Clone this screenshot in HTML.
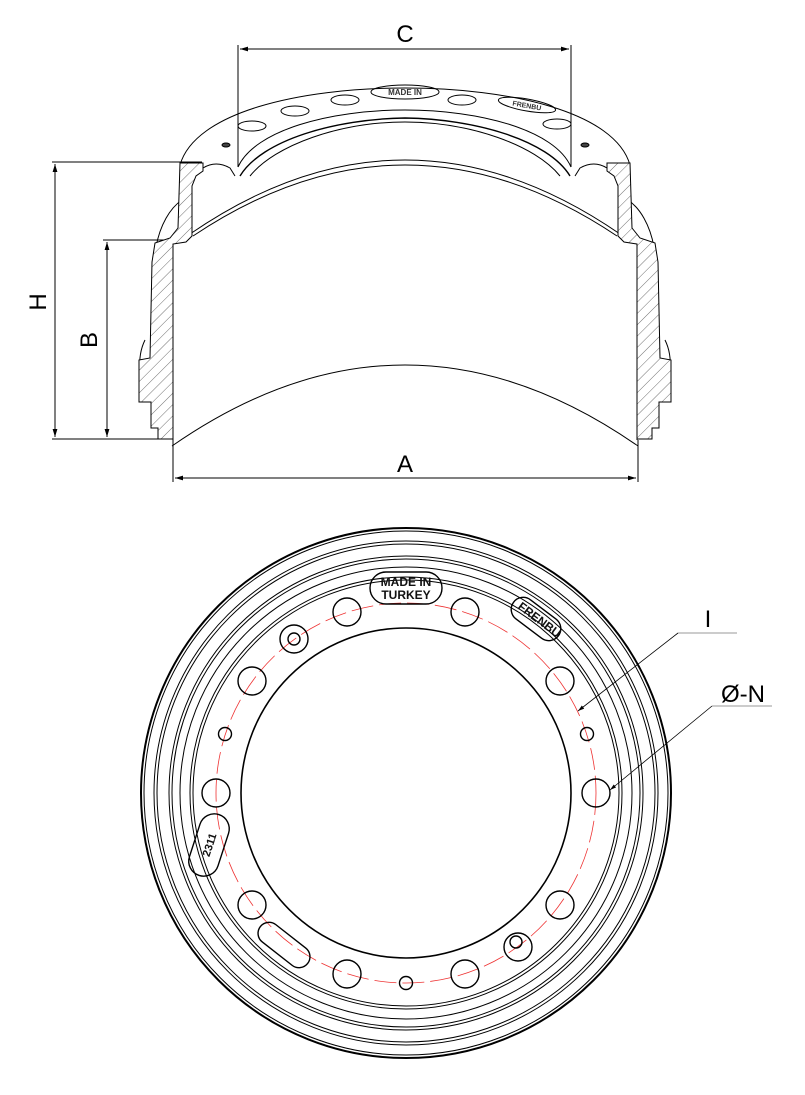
<!DOCTYPE html>
<html><head><meta charset="utf-8"><style>
html,body{margin:0;padding:0;background:#fff;}
svg{display:block;}
text{font-family:"Liberation Sans",sans-serif;}
</style></head><body>
<svg width="805" height="1095" viewBox="0 0 805 1095" xmlns="http://www.w3.org/2000/svg">
<defs>
<pattern id="h" patternUnits="userSpaceOnUse" width="8" height="8" patternTransform="rotate(45)">
<rect width="8" height="8" fill="#fff"/><line x1="0" y1="0" x2="0" y2="8" stroke="#333" stroke-width="0.7"/>
</pattern>
<marker id="ar" viewBox="0 0 10 10" refX="10" refY="5" markerWidth="8" markerHeight="8" orient="auto-start-reverse"><path d="M0,2 L10,5 L0,8 z" fill="#000"/></marker>
</defs>
<g fill="none" stroke="#000" stroke-width="1">
<line x1="238" y1="45" x2="238" y2="167"/><line x1="571" y1="45" x2="571" y2="167"/>
<line x1="240" y1="49" x2="569" y2="49" marker-start="url(#ar)" marker-end="url(#ar)"/>
<line x1="52" y1="162" x2="202" y2="162"/><line x1="52" y1="439" x2="160" y2="439"/>
<line x1="55" y1="164" x2="55" y2="437" marker-start="url(#ar)" marker-end="url(#ar)"/>
<line x1="103" y1="240" x2="175" y2="240"/>
<line x1="107" y1="242" x2="107" y2="437" marker-start="url(#ar)" marker-end="url(#ar)"/>
<line x1="173" y1="440" x2="173" y2="482"/><line x1="638" y1="440" x2="638" y2="482"/>
<line x1="175" y1="478" x2="636" y2="478" marker-start="url(#ar)" marker-end="url(#ar)"/>

<path d="M180,165 C195,112 300,88 405,88 C510,88 615,112 630,165"/>
<path d="M238,167 C255,130 330,110 405,110 C480,110 555,130 571,167"/>
<path d="M240,176 C262,140 335,119 405,118 C475,119 548,140 570,176" stroke-width="1.4"/>
<path d="M250,176 C275,145 340,122 405,122 C470,122 535,145 560,176"/>
<ellipse cx="252" cy="126" rx="14" ry="5"/><ellipse cx="295" cy="111" rx="14" ry="5"/>
<ellipse cx="345" cy="100" rx="14" ry="5"/><ellipse cx="462" cy="100" rx="14" ry="5"/>
<ellipse cx="557" cy="124" rx="14" ry="5"/>
<ellipse cx="226" cy="145" rx="4" ry="2" fill="#444"/><ellipse cx="585" cy="145" rx="4" ry="2" fill="#444"/>
<ellipse cx="405" cy="92" rx="34" ry="7"/>
<text x="405" y="95" font-size="8" text-anchor="middle" fill="#333" stroke="none" font-weight="bold">MADE IN</text>
<ellipse cx="527" cy="105" rx="29" ry="6" transform="rotate(10 527 105)"/>
<text x="527" y="108" font-size="7" text-anchor="middle" fill="#333" stroke="none" font-weight="bold" transform="rotate(10 527 105)">FRENBU</text>
<path d="M190,234 Q405,86 620,234"/>
<path d="M193,236 Q405,94 617,236"/>
<path d="M172,446 Q405,284 638,446"/>
<line x1="173" y1="244" x2="173" y2="480"/><line x1="637" y1="244" x2="637" y2="440"/>
<path d="M156,247 C160,225 170,208 182,200"/><path d="M654,247 C650,225 640,208 628,200"/>
<path d="M145,340 C140,350 139,360 140,371"/><path d="M665,340 C670,350 671,360 670,371"/>
<path fill="url(#h)" d="M180,163 L203,163 L203,171 L196,176 L192,186 L192,236 L186,242 L173,244 L173,439 L158,439 L158,428 L151,428 L151,402 L139,402 L139,360 L150,358 L152,262 L155,243 L170,238 L178,228 Z"/>
<path fill="url(#h)" d="M630,163 L607,163 L607,171 L614,176 L618,186 L618,236 L624,242 L637,244 L637,439 L652,439 L652,428 L659,428 L659,402 L671,402 L671,360 L660,358 L658,262 L655,243 L640,238 L632,228 Z"/>
<path d="M203,168 Q216,160 230,168 L235,176"/><path d="M607,168 Q594,160 580,168 L575,176"/>
</g>
<text x="405" y="42" font-size="24" text-anchor="middle">C</text>
<text x="405" y="472" font-size="24" text-anchor="middle">A</text>
<text x="0" y="0" font-size="24" text-anchor="middle" transform="translate(46,302) rotate(-90)">H</text>
<text x="0" y="0" font-size="24" text-anchor="middle" transform="translate(97,340) rotate(-90)">B</text>

<g fill="none" stroke="#000" stroke-width="1" transform="translate(406,793)">
<circle r="265" stroke-width="2"/><circle r="262"/>
<circle r="252"/><circle r="249"/><circle r="237"/><circle r="234"/>
<circle r="226"/><circle r="216"/><circle r="213"/>
<circle r="165" stroke-width="1.6"/>
<circle r="190" stroke="#e33" stroke-width="0.8" stroke-dasharray="22,6"/>
<g stroke-width="1.4">
<circle cx="-59" cy="-181" r="14"/><circle cx="59" cy="-181" r="14"/>
<circle cx="154" cy="-112" r="14"/><circle cx="190" cy="0" r="14"/>
<circle cx="154" cy="112" r="14"/><circle cx="59" cy="181" r="14"/>
<circle cx="-59" cy="181" r="14"/><circle cx="-154" cy="112" r="14"/>
<circle cx="-190" cy="0" r="14"/><circle cx="-154" cy="-112" r="14"/>
<circle cx="181" cy="-59" r="6.5"/><circle cx="-181" cy="-59" r="6.5"/><circle cx="0" cy="190" r="6.5"/>
<circle cx="-112" cy="-154" r="14"/><circle cx="-112" cy="-154" r="6"/>
<circle cx="112" cy="154" r="14"/><circle cx="110" cy="149" r="6"/>
<rect x="-30" y="-11" width="60" height="22" rx="11" transform="translate(-122,152) rotate(38)"/>
<rect x="-36" y="-16" width="72" height="32" rx="16" transform="translate(0,-205)"/>
<rect x="-28" y="-12" width="56" height="24" rx="12" transform="translate(130,-174) rotate(37)"/>
<rect x="-32" y="-15" width="64" height="30" rx="15" transform="translate(-197,52) rotate(-72)"/>
</g>
</g>
<g font-weight="bold" fill="#111" font-size="12" text-anchor="middle">
<text x="406" y="586">MADE IN</text>
<text x="406" y="599">TURKEY</text>
<text transform="translate(537,623) rotate(37)">FRENBU</text>
<text font-size="11" transform="translate(213,846) rotate(-72)">2311</text>
</g>
<g fill="none" stroke="#000" stroke-width="0.8">
<line x1="678" y1="633" x2="737" y2="633" stroke="#777"/>
<line x1="678" y1="633" x2="578" y2="711" marker-end="url(#ar)"/>
<line x1="712" y1="706" x2="772" y2="706" stroke="#777"/>
<line x1="712" y1="706" x2="610" y2="790" marker-end="url(#ar)"/>
</g>
<text x="708" y="627" font-size="24" text-anchor="middle">I</text>
<text x="743" y="702" font-size="24" text-anchor="middle">Ø-N</text>
</svg>
</body></html>
